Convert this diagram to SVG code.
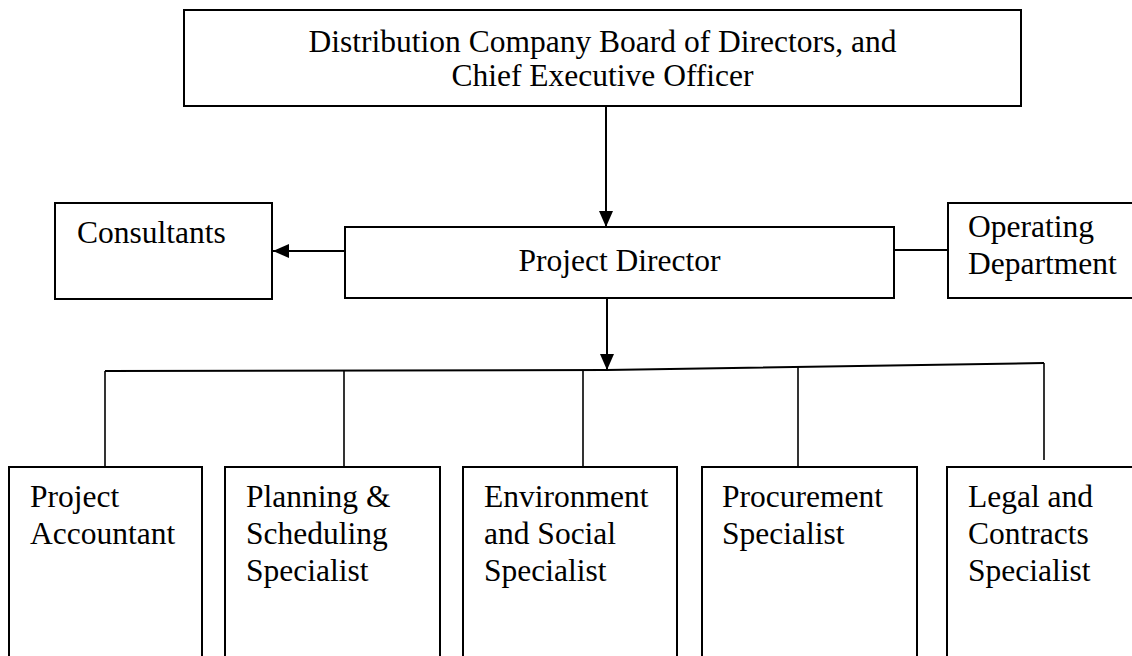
<svg xmlns="http://www.w3.org/2000/svg" width="1132" height="656" viewBox="0 0 1132 656">
  <defs>
    <marker id="arrowhead" viewBox="0 0 16 14" refX="16" refY="7" markerWidth="16" markerHeight="14" markerUnits="userSpaceOnUse" orient="auto">
      <path d="M0,0 L16,7 L0,14 Z" fill="#000"/>
    </marker>
    <style>
      .box { fill: #fff; stroke: #000; stroke-width: 2; }
      .lbl { font-family: "Liberation Serif", "Times New Roman", serif; font-size: 31.5px; fill: #000; }
      .mid { text-anchor: middle; }
      .link { fill: none; stroke: #000; stroke-width: 2; }
      .thin { fill: none; stroke: #000; stroke-width: 1.6; }
    </style>
  </defs>
  <rect width="1132" height="656" fill="#fff"/>

  <!-- connectors -->
  <g id="connectors">
    <line class="link" x1="606" y1="106" x2="606" y2="227" marker-end="url(#arrowhead)"/>
    <line class="link" x1="345" y1="251" x2="273" y2="251" marker-end="url(#arrowhead)"/>
    <line class="link" x1="894" y1="250" x2="948" y2="250"/>
    <line class="link" x1="607" y1="298" x2="607" y2="370" marker-end="url(#arrowhead)"/>
    <polyline class="link" points="105,371 607,370 1044,363"/>
    <line class="thin" x1="105" y1="371" x2="105" y2="467"/>
    <line class="thin" x1="344" y1="371" x2="344" y2="467"/>
    <line class="thin" x1="583" y1="370" x2="583" y2="467"/>
    <line class="thin" x1="798" y1="367" x2="798" y2="467"/>
    <line class="thin" x1="1044" y1="363" x2="1044" y2="460"/>
  </g>

  <g id="board">
    <rect class="box" x="184" y="10" width="837" height="96"/>
    <text class="lbl mid" x="602.5" y="52">Distribution Company Board of Directors, and</text>
    <text class="lbl mid" x="602.5" y="86">Chief Executive Officer</text>
  </g>

  <g id="consultants">
    <rect class="box" x="55" y="203" width="217" height="96"/>
    <text class="lbl" x="77" y="243">Consultants</text>
  </g>

  <g id="project-director">
    <rect class="box" x="345" y="227" width="549" height="71"/>
    <text class="lbl mid" x="619.5" y="271">Project Director</text>
  </g>

  <g id="operating-department">
    <rect class="box" x="948" y="203" width="190" height="95"/>
    <text class="lbl" x="968" y="237">Operating</text>
    <text class="lbl" x="968" y="274">Department</text>
  </g>

  <g id="project-accountant">
    <rect class="box" x="9" y="467" width="193" height="200"/>
    <text class="lbl" x="30" y="507">Project</text>
    <text class="lbl" x="30" y="544">Accountant</text>
  </g>

  <g id="planning-scheduling">
    <rect class="box" x="225" y="467" width="215" height="200"/>
    <text class="lbl" x="246" y="507">Planning &amp;</text>
    <text class="lbl" x="246" y="544">Scheduling</text>
    <text class="lbl" x="246" y="581">Specialist</text>
  </g>

  <g id="environment-social">
    <rect class="box" x="463" y="467" width="214" height="200"/>
    <text class="lbl" x="484" y="507">Environment</text>
    <text class="lbl" x="484" y="544">and Social</text>
    <text class="lbl" x="484" y="581">Specialist</text>
  </g>

  <g id="procurement">
    <rect class="box" x="702" y="467" width="215" height="200"/>
    <text class="lbl" x="722" y="507">Procurement</text>
    <text class="lbl" x="722" y="544">Specialist</text>
  </g>

  <g id="legal-contracts">
    <rect class="box" x="947" y="467" width="200" height="200"/>
    <text class="lbl" x="968" y="507">Legal and</text>
    <text class="lbl" x="968" y="544">Contracts</text>
    <text class="lbl" x="968" y="581">Specialist</text>
  </g>
</svg>
